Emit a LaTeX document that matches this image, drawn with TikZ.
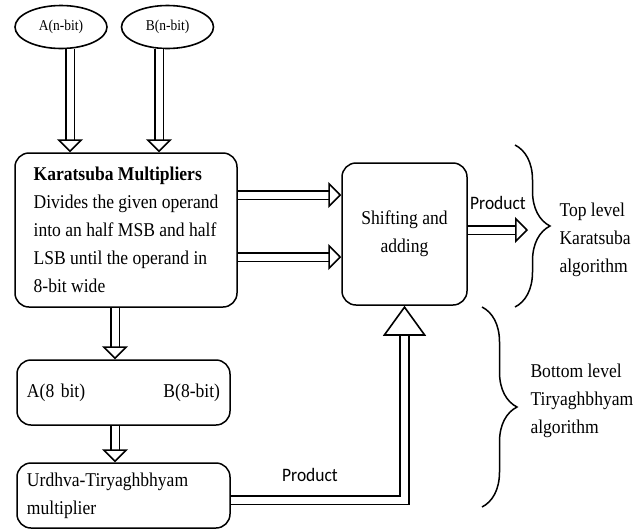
\documentclass[tikz,border=0pt]{standalone}
\usepackage{fontspec}
\setmainfont{Liberation Serif}[FakeStretch=0.9]
\newfontfamily\prodfont{Carlito}[FakeStretch=0.92]
\usetikzlibrary{positioning, arrows.meta, shapes.geometric, decorations.pathreplacing}

\begin{document}
\begin{tikzpicture}[x=1pt,y=-1pt,
    blk/.style={draw, rounded corners=14, line width=1.5, inner sep=0, font=\fontsize{19.5}{28}\selectfont},
    io/.style={draw, ellipse, line width=1.6, minimum width=92, minimum height=43, inner sep=0, font=\fontsize{15}{18}\selectfont},
    fat/.style={double, double distance=7, line width=1.6, -{Triangle[open, length=13, width=26]}},
    lbl/.style={font=\prodfont\fontsize{19}{22}\selectfont},
    side/.style={align=left, anchor=west, font=\fontsize{19.5}{28}\selectfont},
    curly/.style={decorate, decoration={brace, amplitude=35}, line width=1.5}]
  \useasboundingbox (0,0) rectangle (642,531);

  % inputs
  \node[io] (ina) at (61,27) {A(n-bit)};
  \node[io] (inb) at (167.5,27) {B(n-bit)};

  % blocks
  \node[blk, align=left, minimum width=222, minimum height=154] (kar) at (126,230)
    {\textbf{Karatsuba Multipliers}\\Divides the given operand\\into an half MSB and half\\LSB until the operand in\\8-bit wide};
  \node[blk, align=center, minimum width=125, minimum height=142] (shf) at (404.5,234) {Shifting and\\adding};
  \node[blk, text width=193, inner xsep=10, minimum height=65] (ab) at (123.5,392.5) {A(8 bit)\hfill B(8-bit)};
  \node[blk, text width=193, inner xsep=10, minimum height=65, align=left] (urd) at (123.5,495.5) {Urdhva-Tiryaghbhyam\\multiplier};

  % arrows
  \draw[fat] ([xshift=9]ina.south) -- ([xshift=9]ina.south |- kar.north);
  \draw[fat] ([xshift=-8.5]inb.south) -- ([xshift=-8.5]inb.south |- kar.north);
  \draw[fat] ([yshift=35]kar.east) -- ([yshift=35]kar.east -| shf.west);
  \draw[fat] ([yshift=-27]kar.east) -- ([yshift=-27]kar.east -| shf.west);
  \draw[fat] ([xshift=-11]kar.south) -- ([xshift=-11]kar.south |- ab.north);
  \draw[fat] ([xshift=-8.5]ab.south) -- ([xshift=-8.5]ab.south |- urd.north);
  \coordinate (pend) at (528,230);
  \draw[fat] (shf.east |- pend) -- (pend);
  \draw[fat, -{Triangle[open, length=30, width=43]}] ([yshift=-4.5]urd.east) -| (shf.south);

  \node[lbl] (p1) at (498,203) {Product};
  \node[lbl] (p2) at (310,475) {Product};

  % levels
  \coordinate (t1) at (515,145);
  \coordinate (t2) at (515,307);
  \coordinate (b1) at (482,307);
  \coordinate (b2) at (482,507);
  \draw[curly] (t1) -- (t2);
  \draw[curly] (b1) -- (b2);
  \node[side] (top) at (556,240) {Top level\\Karatsuba\\algorithm};
  \node[side] (bot) at (527,401) {Bottom level\\Tiryaghbhyam\\algorithm};
\end{tikzpicture}
\end{document}
